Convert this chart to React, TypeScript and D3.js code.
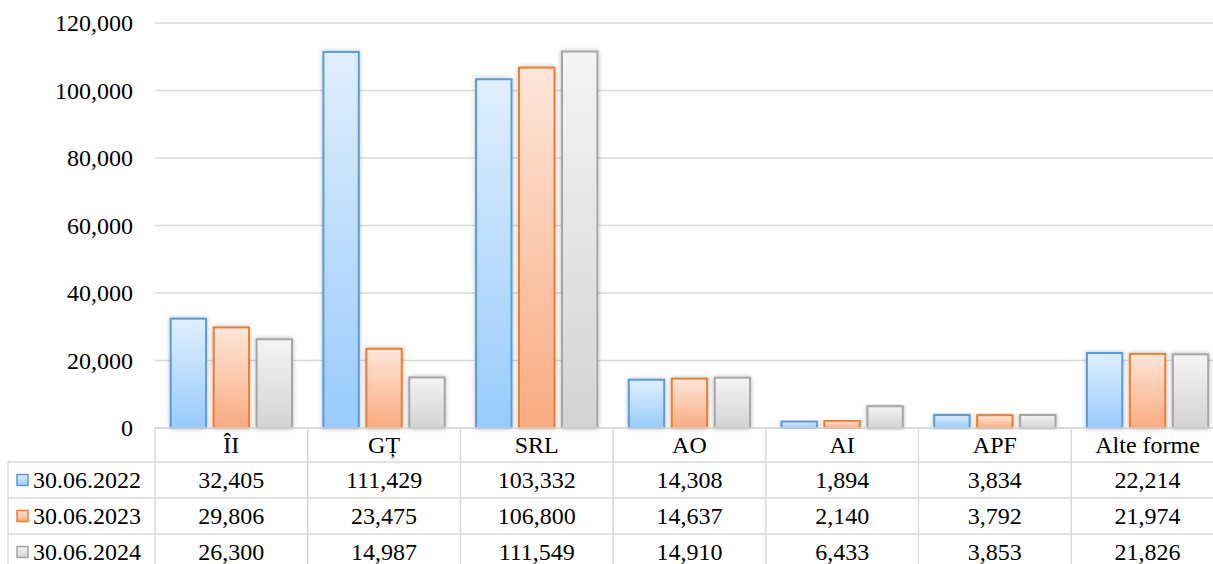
import React from 'react';
import * as d3 from 'd3';

const categories = ['ÎI', 'GȚ', 'SRL', 'AO', 'AI', 'APF', 'Alte forme'];
const seriesNames = ['30.06.2022', '30.06.2023', '30.06.2024'];
const v2022 = [32405, 111429, 103332, 14308, 1894, 3834, 22214];
const v2023 = [29806, 23475, 106800, 14637, 2140, 3792, 21974];
const v2024 = [26300, 14987, 111549, 14910, 6433, 3853, 21826];
const yTicks = [0, 20000, 40000, 60000, 80000, 100000, 120000];

const seriesValues = [v2022, v2023, v2024];
const strokes = ['#5b9bd5', '#ed7d31', '#a5a5a5'];
const gradTop = ['#e0efff', '#fde6da', '#f4f4f4'];
const gradBottom = ['#98cbfb', '#f9ab80', '#d3d3d3'];

const W = 1213;
const H = 564;
const plotLeft = 155;
const colW = 152.7;
const zeroY = 428;
const topY = 23;
const rowH = 36;
const FONT = 'Liberation Serif';
const FS = 24;
const gridColor = '#d9d9d9';

export default function App() {
  const x = d3.scaleBand<string>()
    .domain(categories)
    .range([plotLeft, plotLeft + colW * categories.length])
    .padding(0);

  const inner = d3.scaleBand<string>()
    .domain(seriesNames)
    .range([15.7, colW - 15.7])
    .paddingInner(0.176)
    .paddingOuter(0);

  const y = d3.scaleLinear().domain([0, 120000]).range([zeroY, topY]);
  const fmt = d3.format(',');

  const headerTop = zeroY;
  const headerBottom = 462;
  const rowTops = seriesNames.map((_, i) => headerBottom + i * rowH);
  const tableRight = plotLeft + colW * categories.length;

  return (
    <div style={{ position: 'absolute', left: 0, top: 0, fontFamily: FONT }}>
      <svg width={W} height={H} style={{ display: 'block', background: '#fff', fontFamily: FONT }}>
        <defs>
          {seriesNames.map((s, i) => (
            <linearGradient key={s} id={`g${i}`} x1="0" y1="0" x2="0" y2="1">
              <stop offset="0" stopColor={gradTop[i]} />
              <stop offset="1" stopColor={gradBottom[i]} />
            </linearGradient>
          ))}
          <filter id="shadow" x="-30%" y="-10%" width="160%" height="120%">
            <feDropShadow dx="0" dy="0" stdDeviation="2" floodColor="#000" floodOpacity="0.28" />
          </filter>
        </defs>

        {/* gridlines */}
        {yTicks.map(t => (
          <line key={t} x1={plotLeft} x2={W} y1={y(t)} y2={y(t)} stroke={gridColor} strokeWidth={1.5} />
        ))}

        {/* y labels */}
        {yTicks.map(t => (
          <text key={t} x={133} y={y(t)} dy="0.35em" textAnchor="end" fontSize={FS} style={{ fontFamily: FONT }} fill="#000">{fmt(t)}</text>
        ))}

        {/* bars */}
        {categories.map((c, ci) => (
          <g key={c}>
            {seriesNames.map((s, si) => {
              const v = seriesValues[si][ci];
              const bx = (x(c) as number) + (inner(s) as number);
              const by = y(v);
              return (
                <rect key={s} x={bx} y={by} width={inner.bandwidth()} height={zeroY - by}
                  fill={`url(#g${si})`} stroke={strokes[si]} strokeWidth={2} filter="url(#shadow)" />
              );
            })}
          </g>
        ))}

        {/* data table */}
        <g stroke={gridColor} strokeWidth={1.5}>
          <line x1={plotLeft} x2={tableRight} y1={headerTop} y2={headerTop} />
          {rowTops.map(ry => (
            <line key={ry} x1={8} x2={tableRight} y1={ry} y2={ry} />
          ))}
          <line x1={8} x2={8} y1={headerBottom} y2={H} />
          {categories.map(c => (
            <line key={c} x1={x(c)} x2={x(c)} y1={headerTop} y2={H} />
          ))}
          <line x1={tableRight} x2={tableRight} y1={headerTop} y2={H} />
        </g>

        {categories.map(c => (
          <text key={c} x={(x(c) as number) + colW / 2} y={(headerTop + headerBottom) / 2} dy="0.35em"
            textAnchor="middle" fontSize={FS} style={{ fontFamily: FONT }} fill="#000">{c}</text>
        ))}

        {seriesNames.map((s, si) => {
          const cy = rowTops[si] + rowH / 2;
          return (
            <g key={s}>
              <rect x={17} y={cy - 5.5} width={11} height={11} fill={`url(#g${si})`} stroke={strokes[si]} strokeWidth={1.5} />
              <text x={33} y={cy} dy="0.35em" fontSize={FS} style={{ fontFamily: FONT }} fill="#000">{s}</text>
              {categories.map((c, ci) => (
                <text key={c} x={(x(c) as number) + colW / 2} y={cy} dy="0.35em" textAnchor="middle"
                  fontSize={FS} style={{ fontFamily: FONT }} fill="#000">{fmt(seriesValues[si][ci])}</text>
              ))}
            </g>
          );
        })}
      </svg>
    </div>
  );
}
